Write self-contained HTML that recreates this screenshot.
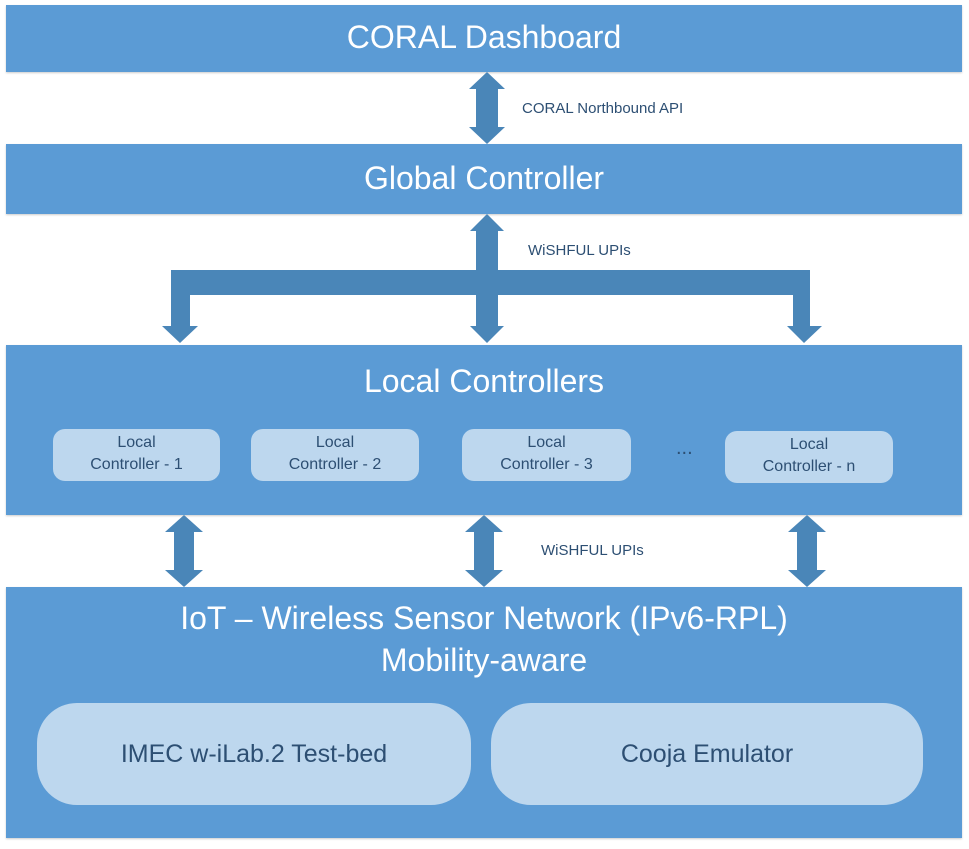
<!DOCTYPE html>
<html><head><style>
body{margin:0;width:969px;height:849px;background:#fff;position:relative;font-family:"Liberation Sans",sans-serif;overflow:hidden}
.bar{position:absolute;left:6px;width:956px;background:#5b9bd5;color:#fff;text-align:center;box-shadow:0 1px 2px rgba(0,0,0,.2)}
.t{position:absolute;left:0;right:0;text-align:center;color:#fff;font-size:32px}
.sb{position:absolute;background:#bdd7ee;border-radius:12px;color:#2d4f73;font-size:16px;text-align:center;line-height:22px;padding-top:3px;box-sizing:border-box;height:52px}
.bb{position:absolute;background:#bdd7ee;border-radius:40px;color:#2d4f73;font-size:25px;text-align:center;line-height:102px;top:116px;height:102px}
.lbl{position:absolute;font-size:15px;color:#2d4f73}
</style></head><body>
<div class="bar" style="top:5px;height:67px"><div class="t" style="top:14px">CORAL Dashboard</div></div>
<div class="bar" style="top:144px;height:70px"><div class="t" style="top:16px">Global Controller</div></div>
<div class="bar" style="top:345px;height:170px"><div class="t" style="top:18px">Local Controllers</div>
<div class="sb" style="left:47px;top:84px;width:167px">Local<br>Controller - 1</div>
<div class="sb" style="left:245px;top:84px;width:168px">Local<br>Controller - 2</div>
<div class="sb" style="left:456px;top:84px;width:169px">Local<br>Controller - 3</div>
<div style="position:absolute;left:670px;top:92px;color:#2d4f73;font-size:20px">...</div>
<div class="sb" style="left:719px;top:86px;width:168px">Local<br>Controller - n</div>
</div>
<div class="bar" style="top:587px;height:251px"><div class="t" style="top:10px;line-height:42px">IoT – Wireless Sensor Network (IPv6-RPL)<br>Mobility-aware</div>
<div class="bb" style="left:31px;width:434px">IMEC w-iLab.2 Test-bed</div>
<div class="bb" style="left:485px;width:432px">Cooja Emulator</div>
</div>
<svg style="position:absolute;left:0;top:0" width="969" height="849">
<g fill="#4a86b8">
<polygon points="487,72 505,89 498,89 498,127 505,127 487,144 469,127 476,127 476,89 469,89"/>
<polygon points="487,214 504,231 498,231 498,326 504,326 487,343 470,326 476,326 476,231 470,231"/>
<polygon points="171,270 810,270 810,326 822,326 804,343 787,326 793,326 793,295 190,295 190,326 198,326 180,343 162,326 171,326"/>
<polygon points="184,515 203,532 194,532 194,570 203,570 184,587 165,570 174,570 174,532 165,532"/>
<polygon points="484,515 503,532 494,532 494,570 503,570 484,587 465,570 474,570 474,532 465,532"/>
<polygon points="807,515 826,532 817,532 817,570 826,570 807,587 788,570 797,570 797,532 788,532"/>
</g></svg>
<div class="lbl" style="left:522px;top:100px">CORAL Northbound API</div>
<div class="lbl" style="left:528px;top:242px">WiSHFUL UPIs</div>
<div class="lbl" style="left:541px;top:542px">WiSHFUL UPIs</div>
</body></html>
